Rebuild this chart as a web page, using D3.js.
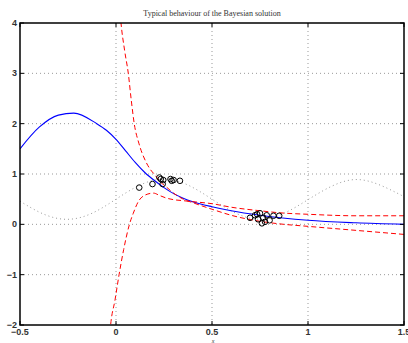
<!DOCTYPE html>
<html><head><meta charset="utf-8">
<script src="https://cdn.jsdelivr.net/npm/d3@7/dist/d3.min.js"></script>
<style>body{margin:0;background:#fff}svg{display:block}</style>
</head><body><svg id="c" width="408" height="343"></svg>
<script>
const xTicks = [-0.5, 0, 0.5, 1, 1.5];
const yTicks = [-2, -1, 0, 1, 2, 3, 4];
const titleText = "Typical behaviour of the Bayesian solution";
const xLabel = "x";

// true function (grey dotted)
const trueX = [-0.5,-0.375,-0.25,-0.125,0,0.125,0.25,0.375,0.5,0.625,0.75,0.875,1.0,1.125,1.25,1.375,1.5];
const trueY = [0.46,0.2,0.1,0.22,0.5,0.78,0.9,0.78,0.5,0.22,0.1,0.22,0.49,0.76,0.89,0.78,0.55];

// Bayesian mean (blue)
const meanX = [-0.5,-0.4,-0.3,-0.22,-0.1,-0.05,0,0.05,0.1,0.15,0.2,0.25,0.3,0.35,0.4,0.5,0.6,0.75,1.0,1.25,1.5];
const meanY = [1.5,1.93,2.17,2.21,2.0,1.87,1.69,1.46,1.23,1.03,0.87,0.73,0.61,0.52,0.45,0.35,0.27,0.18,0.08,0.03,0.0];

// error bar curve A (from top)
const errAX = [0.015,0.026,0.045,0.064,0.08,0.095,0.12,0.156,0.177,0.203,0.229,0.26,0.3,0.35,0.4,0.5,0.6,0.75,0.85,1.0,1.25,1.5];
const errAY = [4.5,4.0,3.45,3.0,2.45,2.0,1.6,1.24,1.1,0.98,0.85,0.75,0.62,0.5,0.43,0.3,0.18,0.06,0.01,-0.04,-0.12,-0.2];

// error bar curve B (from bottom)
const errBX = [-0.035,-0.028,-0.005,0.016,0.04,0.07,0.09,0.116,0.151,0.195,0.229,0.264,0.3,0.35,0.4,0.5,0.6,0.75,0.85,1.0,1.25,1.5];
const errBY = [-2.3,-2.0,-1.5,-1.0,-0.5,0.0,0.22,0.45,0.58,0.62,0.57,0.52,0.49,0.47,0.45,0.41,0.34,0.27,0.23,0.2,0.17,0.17];

// observed data (circles)
const obsX = [0.121,0.19,0.226,0.233,0.243,0.246,0.284,0.29,0.30,0.333,
              0.698,0.724,0.74,0.75,0.76,0.767,0.776,0.785,0.80,0.82,0.85,0.735];
const obsY = [0.73,0.80,0.93,0.90,0.80,0.88,0.90,0.865,0.88,0.865,
              0.13,0.18,0.10,0.22,0.02,0.13,0.05,0.18,0.08,0.17,0.17,0.2];

const svg = d3.select("#c");
const L = 20, R = 404, T = 23, B = 325;
const x = d3.scaleLinear().domain([-0.5, 1.5]).range([L, R]);
const y = d3.scaleLinear().domain([-2, 4]).range([B, T]);

svg.append("defs").append("clipPath").attr("id","clip")
  .append("rect").attr("x",L).attr("y",T).attr("width",R-L).attr("height",B-T);

// grid
const grid = svg.append("g");
grid.selectAll(".gx").data(xTicks.slice(1,-1)).join("line")
  .attr("x1",d=>x(d)).attr("x2",d=>x(d)).attr("y1",T).attr("y2",B)
  .attr("stroke","#999").attr("stroke-width",1).attr("stroke-dasharray","1,3");
grid.selectAll(".gy").data(yTicks.slice(1,-1)).join("line")
  .attr("y1",d=>y(d)).attr("y2",d=>y(d)).attr("x1",L).attr("x2",R)
  .attr("stroke","#999").attr("stroke-width",1).attr("stroke-dasharray","1,3");

const plot = svg.append("g").attr("clip-path","url(#clip)");
const mk = (xs, ys) => xs.map((v,i)=>[v, ys[i]]);
const natural = d3.line().x(d=>x(d[0])).y(d=>y(d[1])).curve(d3.curveNatural);
const mono = d3.line().x(d=>x(d[0])).y(d=>y(d[1])).curve(d3.curveMonotoneX);

plot.append("path").attr("d", natural(mk(trueX,trueY))).attr("fill","none")
  .attr("stroke","#999").attr("stroke-width",1).attr("stroke-dasharray","1,3");
plot.append("path").attr("d", mono(mk(meanX,meanY))).attr("fill","none")
  .attr("stroke","#0000ff").attr("stroke-width",1.1);
plot.append("path").attr("d", mono(mk(errAX,errAY))).attr("fill","none")
  .attr("stroke","#ff0000").attr("stroke-width",1).attr("stroke-dasharray","5,3");
plot.append("path").attr("d", mono(mk(errBX,errBY))).attr("fill","none")
  .attr("stroke","#ff0000").attr("stroke-width",1).attr("stroke-dasharray","5,3");

plot.selectAll(".o").data(mk(obsX,obsY)).join("circle")
  .attr("cx",d=>x(d[0])).attr("cy",d=>y(d[1])).attr("r",2.8)
  .attr("fill","none").attr("stroke","#000").attr("stroke-width",1);

// frame
svg.append("rect").attr("x",L).attr("y",T).attr("width",R-L).attr("height",B-T)
  .attr("fill","none").attr("stroke","#000").attr("stroke-width",1.5);

// ticks (inward)
const tk = svg.append("g").attr("stroke","#000").attr("stroke-width",1);
xTicks.forEach(d=>{
  tk.append("line").attr("x1",x(d)).attr("x2",x(d)).attr("y1",B).attr("y2",B-4);
  tk.append("line").attr("x1",x(d)).attr("x2",x(d)).attr("y1",T).attr("y2",T+4);
});
yTicks.forEach(d=>{
  tk.append("line").attr("y1",y(d)).attr("y2",y(d)).attr("x1",L).attr("x2",L+4);
  tk.append("line").attr("y1",y(d)).attr("y2",y(d)).attr("x1",R).attr("x2",R-4);
});

const fmt = d => String(d).replace("-", "\u2212");
svg.selectAll(".xl").data(xTicks).join("text")
  .attr("x",d=>x(d)).attr("y",B+10).attr("text-anchor","middle")
  .attr("font-family","Liberation Sans, Arial, sans-serif").attr("font-size",9).attr("font-weight","bold")
  .attr("fill","#333").text(fmt);
svg.selectAll(".yl").data(yTicks).join("text")
  .attr("x",L-3).attr("y",d=>y(d)+3).attr("text-anchor","end")
  .attr("font-family","Liberation Sans, Arial, sans-serif").attr("font-size",9).attr("font-weight","bold")
  .attr("fill","#333").text(fmt);

svg.append("text").attr("x",(L+R)/2).attr("y",16).attr("text-anchor","middle")
  .attr("font-family","Liberation Serif, Times New Roman, serif").attr("font-size",8)
  .attr("fill","#333").text(titleText);
svg.append("text").attr("x",(L+R)/2 + 1).attr("y",343).attr("text-anchor","middle")
  .attr("font-family","Liberation Serif, Times New Roman, serif").attr("font-style","italic").attr("font-size",6)
  .attr("fill","#333").text(xLabel);
</script></body></html>
